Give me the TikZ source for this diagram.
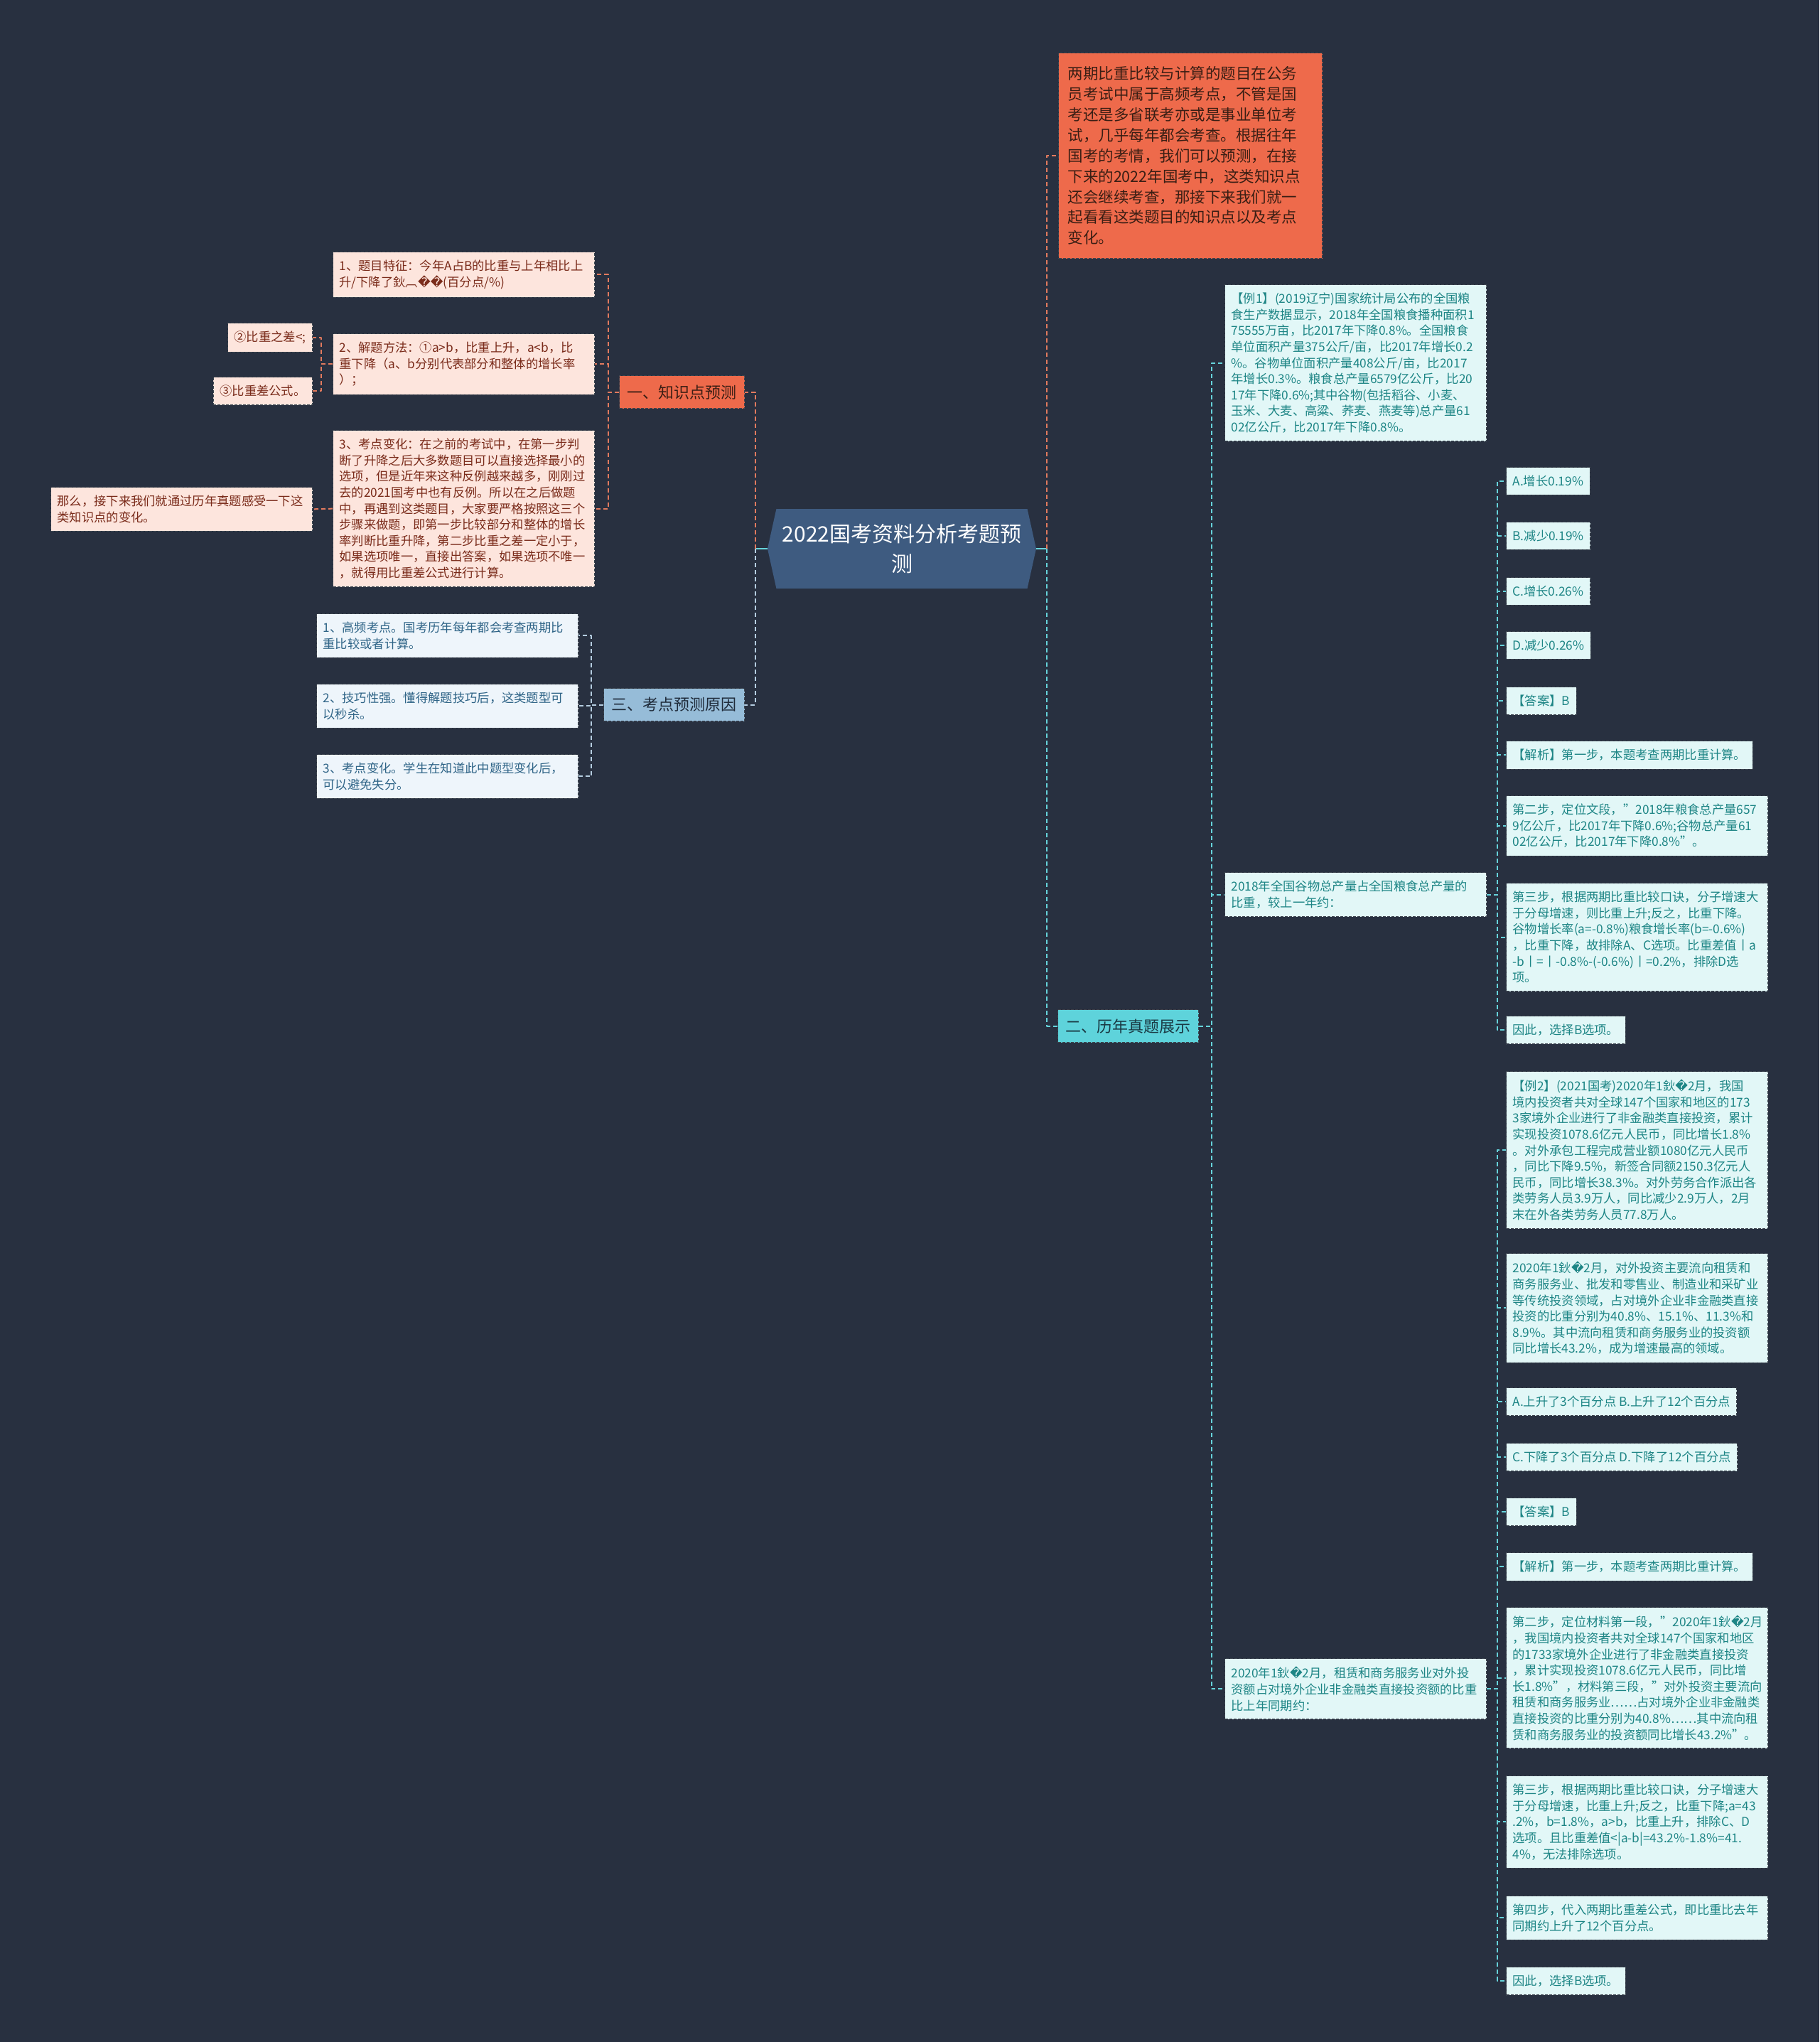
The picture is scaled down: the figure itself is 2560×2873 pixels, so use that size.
\documentclass[tikz,border=0pt]{standalone}
\usepackage{fontspec}
\setmainfont{Noto Sans CJK SC}
\newfontfamily\dvsans{DejaVu Sans}
\newcommand{\bad}{{\dvsans\symbol{"FFFD}}}
\usetikzlibrary{shapes.symbols}
\definecolor{bg}{HTML}{283040}
\definecolor{rootfill}{HTML}{3E5B80}
\definecolor{orangefill}{HTML}{EE6A4B}
\definecolor{orangetext}{HTML}{3A1E14}
\definecolor{pinkfill}{HTML}{FDE5DD}
\definecolor{pinktext}{HTML}{7A2B1A}
\definecolor{steelfill}{HTML}{96BCD8}
\definecolor{steeltext}{HTML}{1F2B3A}
\definecolor{bluefill}{HTML}{EEF5FB}
\definecolor{bluetext}{HTML}{2F6487}
\definecolor{aquafill}{HTML}{5ED3DB}
\definecolor{aquatext}{HTML}{1A3A44}
\definecolor{cyanfill}{HTML}{E2F7F7}
\definecolor{cyantext}{HTML}{1D8585}
\definecolor{boxline}{HTML}{3E4650}
\definecolor{orangeline}{HTML}{E27A5E}
\definecolor{blueline}{HTML}{B5CDE0}
\definecolor{cyanline}{HTML}{66D3DB}
\begin{document}
\begin{tikzpicture}[x=1pt,y=-1pt, line join=round,
    small/.style={font=\fontsize{17.3}{22.6}\selectfont, align=left, inner xsep=9pt, inner ysep=11.5pt,
        draw=boxline, dash pattern=on 4pt off 2pt, line width=1pt},
    wide/.style={text width=350pt},
    pinkbox/.style={small, fill=pinkfill, text=pinktext},
    bluebox/.style={small, fill=bluefill, text=bluetext},
    cyanbox/.style={small, fill=cyanfill, text=cyantext},
    topic/.style={font=\fontsize{22}{28}\selectfont, inner xsep=11pt, inner ysep=13pt,
        draw=boxline, dash pattern=on 4pt off 2pt, line width=1pt},
    link/.style={dash pattern=on 6pt off 4pt, line width=2pt}]
    \useasboundingbox (0,0) rectangle (2560,2873);
    \fill[bg] (0,0) rectangle (2560,2873);

    \node (root) at (1269,772) [signal, signal to=west and east, signal pointer angle=155,
        minimum width=378pt, minimum height=112pt, inner sep=0pt, fill=rootfill, text=white,
        font=\fontsize{30}{42}\selectfont, align=center] {2022国考资料分析考题预\\测};

    \node (intro) at (1489,74) [anchor=north west, fill=orangefill, text=orangetext, draw=boxline,
        dash pattern=on 4pt off 2pt, line width=1pt, font=\fontsize{21.5}{28.9}\selectfont,
        align=left, text width=345pt, inner xsep=13pt, inner ysep=19pt]
        {两期比重比较与计算的题目在公务\\员考试中属于高频考点，不管是国\\考还是多省联考亦或是事业单位考\\试，几乎每年都会考查。根据往年\\国考的考情，我们可以预测，在接\\下来的2022年国考中，这类知识点\\还会继续考查，那接下来我们就一\\起看看这类题目的知识点以及考点\\变化。};

    \node (n1) at (1048,528) [anchor=north east, topic, fill=orangefill, text=orangetext] {一、知识点预测};
    \node (n3) at (1048,968) [anchor=north east, topic, fill=steelfill, text=steeltext] {三、考点预测原因};
    \node (n2) at (1488,1420) [anchor=north west, topic, fill=aquafill, text=aquatext] {二、历年真题展示};

    \node (k1) at (837,354) [anchor=north east, pinkbox, wide] {1、题目特征：今年A占B的比重与上年相比上\\升/下降了鈥︹\bad\bad(百分点/\%)};
    \node (k2) at (837,469) [anchor=north east, pinkbox, wide] {2、解题方法：①a>b，比重上升，a<b，比\\重下降（a、b分别代表部分和整体的增长率\\）；};
    \node (k3) at (837,605) [anchor=north east, pinkbox, wide] {3、考点变化：在之前的考试中，在第一步判\\断了升降之后大多数题目可以直接选择最小的\\选项，但是近年来这种反例越来越多，刚刚过\\去的2021国考中也有反例。所以在之后做题\\中，再遇到这类题目，大家要严格按照这三个\\步骤来做题，即第一步比较部分和整体的增长\\率判断比重升降，第二步比重之差一定小于，\\如果选项唯一，直接出答案，如果选项不唯一\\，就得用比重差公式进行计算。};
    \node (k2a) at (440,454) [anchor=north east, pinkbox] {②比重之差<;};
    \node (k2b) at (440,530) [anchor=north east, pinkbox] {③比重差公式。};
    \node (k3a) at (440,685) [anchor=north east, pinkbox, wide] {那么，接下来我们就通过历年真题感受一下这\\类知识点的变化。};

    \node (r1) at (814,863) [anchor=north east, bluebox, wide] {1、高频考点。国考历年每年都会考查两期比\\重比较或者计算。};
    \node (r2) at (814,962) [anchor=north east, bluebox, wide] {2、技巧性强。懂得解题技巧后，这类题型可\\以秒杀。};
    \node (r3) at (814,1061) [anchor=north east, bluebox, wide] {3、考点变化。学生在知道此中题型变化后，\\可以避免失分。};

    \node (ex1) at (1723,400) [anchor=north west, cyanbox, wide] {【例1】(2019辽宁)国家统计局公布的全国粮\\食生产数据显示，2018年全国粮食播种面积1\\75555万亩，比2017年下降0.8\%。全国粮食\\单位面积产量375公斤/亩，比2017年增长0.2\\\%。谷物单位面积产量408公斤/亩，比2017\\年增长0.3\%。粮食总产量6579亿公斤，比20\\17年下降0.6\%;其中谷物(包括稻谷、小麦、\\玉米、大麦、高粱、荞麦、燕麦等)总产量61\\02亿公斤，比2017年下降0.8\%。};
    \node (q1) at (1723,1227) [anchor=north west, cyanbox, wide] {2018年全国谷物总产量占全国粮食总产量的\\比重，较上一年约：};
    \node (q2) at (1723,2333) [anchor=north west, cyanbox, wide] {2020年1鈥\bad2月，租赁和商务服务业对外投\\资额占对境外企业非金融类直接投资额的比重\\比上年同期约：};

    \node (qa) at (2119,657) [anchor=north west, cyanbox] {A.增长0.19\%};
    \node (qb) at (2119,734) [anchor=north west, cyanbox] {B.减少0.19\%};
    \node (qc) at (2119,812) [anchor=north west, cyanbox] {C.增长0.26\%};
    \node (qd) at (2119,888) [anchor=north west, cyanbox] {D.减少0.26\%};
    \node (ans1) at (2119,966) [anchor=north west, cyanbox] {【答案】B};
    \node (ana1) at (2119,1042) [anchor=north west, cyanbox] {【解析】第一步，本题考查两期比重计算。};
    \node (step12) at (2119,1119) [anchor=north west, cyanbox, wide] {第二步，定位文段，"2018年粮食总产量657\\9亿公斤，比2017年下降0.6\%;谷物总产量61\\02亿公斤，比2017年下降0.8\%"。};
    \node (step13) at (2119,1242) [anchor=north west, cyanbox, wide] {第三步，根据两期比重比较口诀，分子增速大\\于分母增速，则比重上升;反之，比重下降。\\谷物增长率(a=-0.8\%)粮食增长率(b=-0.6\%)\\，比重下降，故排除A、C选项。比重差值丨a\\-b丨=丨-0.8\%-(-0.6\%)丨=0.2\%，排除D选\\项。};
    \node (con1) at (2119,1429) [anchor=north west, cyanbox] {因此，选择B选项。};

    \node (ex2) at (2119,1507) [anchor=north west, cyanbox, wide] {【例2】(2021国考)2020年1鈥\bad2月，我国\\境内投资者共对全球147个国家和地区的173\\3家境外企业进行了非金融类直接投资，累计\\实现投资1078.6亿元人民币，同比增长1.8\%\\。对外承包工程完成营业额1080亿元人民币\\，同比下降9.5\%，新签合同额2150.3亿元人\\民币，同比增长38.3\%。对外劳务合作派出各\\类劳务人员3.9万人，同比减少2.9万人，2月\\末在外各类劳务人员77.8万人。};
    \node (info2) at (2119,1763) [anchor=north west, cyanbox, wide] {2020年1鈥\bad2月，对外投资主要流向租赁和\\商务服务业、批发和零售业、制造业和采矿业\\等传统投资领域，占对境外企业非金融类直接\\投资的比重分别为40.8\%、15.1\%、11.3\%和\\8.9\%。其中流向租赁和商务服务业的投资额\\同比增长43.2\%，成为增速最高的领域。};
    \node (ab2) at (2119,1952) [anchor=north west, cyanbox] {A.上升了3个百分点 B.上升了12个百分点};
    \node (cd2) at (2119,2030) [anchor=north west, cyanbox] {C.下降了3个百分点 D.下降了12个百分点};
    \node (ans2) at (2119,2107) [anchor=north west, cyanbox] {【答案】B};
    \node (ana2) at (2119,2184) [anchor=north west, cyanbox] {【解析】第一步，本题考查两期比重计算。};
    \node (step22) at (2119,2261) [anchor=north west, cyanbox, wide] {第二步，定位材料第一段，"2020年1鈥\bad2月\\，我国境内投资者共对全球147个国家和地区\\的1733家境外企业进行了非金融类直接投资\\，累计实现投资1078.6亿元人民币，同比增\\长1.8\%"，材料第三段，"对外投资主要流向\\租赁和商务服务业……占对境外企业非金融类\\直接投资的比重分别为40.8\%……其中流向租\\赁和商务服务业的投资额同比增长43.2\%"。};
    \node (step23) at (2119,2498) [anchor=north west, cyanbox, wide] {第三步，根据两期比重比较口诀，分子增速大\\于分母增速，比重上升;反之，比重下降;a=43\\.2\%，b=1.8\%，a>b，比重上升，排除C、D\\选项。且比重差值<|a-b|=43.2\%-1.8\%=41.\\4\%，无法排除选项。};
    \node (step24) at (2119,2667) [anchor=north west, cyanbox, wide] {第四步，代入两期比重差公式，即比重比去年\\同期约上升了12个百分点。};
    \node (con2) at (2119,2767) [anchor=north west, cyanbox] {因此，选择B选项。};

    \draw[cyanline, line width=2pt] (root.east) -- ++(15,0) coordinate (rj);
    \draw[cyanline, line width=2pt] (root.west) -- ++(-17,0) coordinate (lj);
    \draw[orangeline, link] (rj) |- (intro.west);
    \draw[cyanline, link] (rj) |- (n2.west);
    \draw[orangeline, link] (lj) |- (n1.east);
    \draw[blueline, link] (lj) |- (n3.east);

    \draw[orangeline, link] (n1.west) -- ++(-15,0) |- (k1.east);
    \draw[orangeline, link] (n1.west) -- ++(-15,0) |- (k2.east);
    \draw[orangeline, link] (n1.west) -- ++(-15,0) |- (k3.east);
    \draw[orangeline, link] (k2.west) -- ++(-16,0) |- (k2a.east);
    \draw[orangeline, link] (k2.west) -- ++(-16,0) |- (k2b.east);
    \draw[orangeline, link] (k3.west) -- (k3a.east);

    \draw[blueline, link] (n3.west) -- ++(-17,0) |- (r1.east);
    \draw[blueline, link] (n3.west) -- ++(-17,0) |- (r2.east);
    \draw[blueline, link] (n3.west) -- ++(-17,0) |- (r3.east);

    \draw[cyanline, link] (n2.east) -- ++(18,0) |- (ex1.west);
    \draw[cyanline, link] (n2.east) -- ++(18,0) |- (q1.west);
    \draw[cyanline, link] (n2.east) -- ++(18,0) |- (q2.west);

    \draw[cyanline, link] (q1.east) -- ++(15,0) |- (qa.west);
    \draw[cyanline, link] (q1.east) -- ++(15,0) |- (qb.west);
    \draw[cyanline, link] (q1.east) -- ++(15,0) |- (qc.west);
    \draw[cyanline, link] (q1.east) -- ++(15,0) |- (qd.west);
    \draw[cyanline, link] (q1.east) -- ++(15,0) |- (ans1.west);
    \draw[cyanline, link] (q1.east) -- ++(15,0) |- (ana1.west);
    \draw[cyanline, link] (q1.east) -- ++(15,0) |- (step12.west);
    \draw[cyanline, link] (q1.east) -- ++(15,0) |- (step13.west);
    \draw[cyanline, link] (q1.east) -- ++(15,0) |- (con1.west);

    \draw[cyanline, link] (q2.east) -- ++(15,0) |- (ex2.west);
    \draw[cyanline, link] (q2.east) -- ++(15,0) |- (info2.west);
    \draw[cyanline, link] (q2.east) -- ++(15,0) |- (ab2.west);
    \draw[cyanline, link] (q2.east) -- ++(15,0) |- (cd2.west);
    \draw[cyanline, link] (q2.east) -- ++(15,0) |- (ans2.west);
    \draw[cyanline, link] (q2.east) -- ++(15,0) |- (ana2.west);
    \draw[cyanline, link] (q2.east) -- ++(15,0) |- (step22.west);
    \draw[cyanline, link] (q2.east) -- ++(15,0) |- (step23.west);
    \draw[cyanline, link] (q2.east) -- ++(15,0) |- (step24.west);
    \draw[cyanline, link] (q2.east) -- ++(15,0) |- (con2.west);
\end{tikzpicture}
\end{document}
